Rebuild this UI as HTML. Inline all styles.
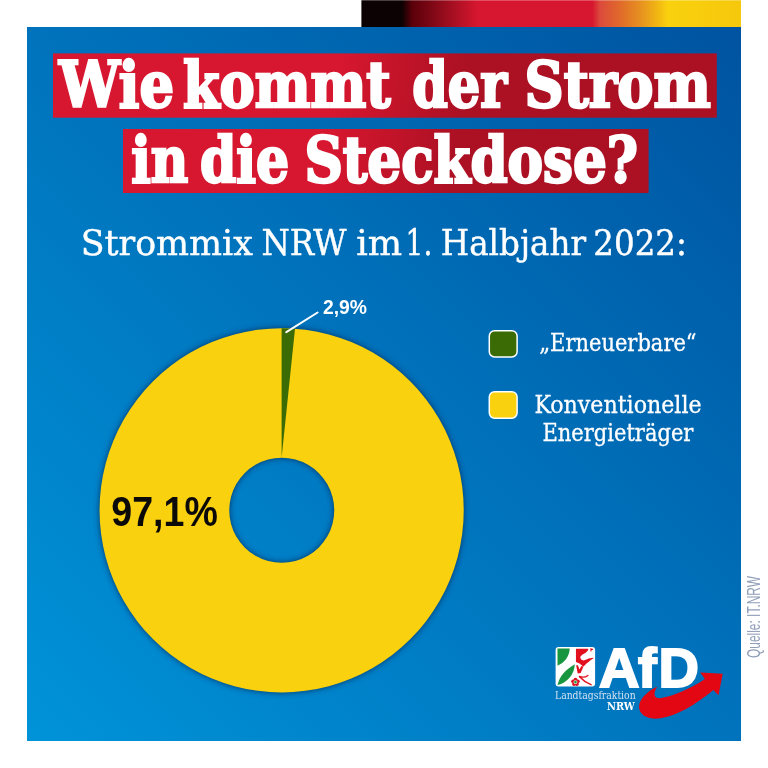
<!DOCTYPE html>
<html lang="de">
<head>
<meta charset="utf-8">
<title>Wie kommt der Strom in die Steckdose?</title>
<style>
html,body{margin:0;padding:0;background:#fff;}
body{width:768px;height:768px;overflow:hidden;position:relative;}
svg{display:block;position:absolute;left:0;top:0;}
.slabB{font-family:"DejaVu Serif","Liberation Serif",serif;font-weight:bold;font-stretch:condensed;}
.slab{font-family:"DejaVu Serif","Liberation Serif",serif;font-weight:normal;font-stretch:condensed;}
.sans{font-family:"Liberation Sans","DejaVu Sans",sans-serif;}
.sansB{font-family:"Liberation Sans","DejaVu Sans",sans-serif;font-weight:bold;}
</style>
</head>
<body>
<svg width="768" height="768" viewBox="0 0 768 768">
  <defs>
    <linearGradient id="bg" x1="741" y1="27" x2="27" y2="741" gradientUnits="userSpaceOnUse">
      <stop offset="0" stop-color="#0053a0"/>
      <stop offset="1" stop-color="#0093d8"/>
    </linearGradient>
    <linearGradient id="flag" x1="362" y1="0" x2="741" y2="0" gradientUnits="userSpaceOnUse">
      <stop offset="0" stop-color="#0c0203"/>
      <stop offset="0.1055" stop-color="#0c0203"/>
      <stop offset="0.132" stop-color="#5a0009"/>
      <stop offset="0.206" stop-color="#8e0b1b"/>
      <stop offset="0.306" stop-color="#d7172f"/>
      <stop offset="0.608" stop-color="#d7172f"/>
      <stop offset="0.628" stop-color="#dc4a3c"/>
      <stop offset="0.681" stop-color="#e06a2a"/>
      <stop offset="0.734" stop-color="#e69020"/>
      <stop offset="0.781" stop-color="#f2b812"/>
      <stop offset="0.807" stop-color="#f9d10e"/>
      <stop offset="1" stop-color="#f6c80c"/>
    </linearGradient>
    <linearGradient id="red" x1="335" y1="85" x2="465" y2="101" gradientUnits="userSpaceOnUse">
      <stop offset="0" stop-color="#d7172f"/>
      <stop offset="1" stop-color="#ab1023"/>
    </linearGradient>
    <filter id="sh" x="-10%" y="-10%" width="120%" height="120%">
      <feGaussianBlur stdDeviation="3"/>
    </filter>
  </defs>
  <!-- blue panel -->
  <rect x="27" y="27" width="714" height="714" fill="url(#bg)"/>
  <!-- flag bar -->
  <rect x="361.4" y="0.25" width="379.6" height="26.75" fill="url(#flag)"/>
  <!-- title boxes -->
  <rect x="53" y="53.4" width="663.8" height="64.3" fill="url(#red)"/>
  <rect x="123" y="129" width="525.6" height="64" fill="url(#red)"/>
  <g>
    <text class="slabB" x="58.99" y="107.4" font-size="63" fill="#fff" stroke="#fff" stroke-width="2.4" textLength="115.01" lengthAdjust="spacingAndGlyphs">Wie</text>
    <text class="slabB" x="183.0" y="107.4" font-size="63" fill="#fff" stroke="#fff" stroke-width="2.4" textLength="207.6" lengthAdjust="spacingAndGlyphs">kommt</text>
    <text class="slabB" x="412.2" y="107.4" font-size="63" fill="#fff" stroke="#fff" stroke-width="2.4" textLength="94.81" lengthAdjust="spacingAndGlyphs">der</text>
    <text class="slabB" x="524.58" y="107.4" font-size="63" fill="#fff" stroke="#fff" stroke-width="2.4" textLength="186.22" lengthAdjust="spacingAndGlyphs">Strom</text>
    <text class="slabB" x="131.16" y="182.2" font-size="63" fill="#fff" stroke="#fff" stroke-width="2.4" textLength="57.04" lengthAdjust="spacingAndGlyphs">in</text>
    <text class="slabB" x="199.97" y="182.2" font-size="63" fill="#fff" stroke="#fff" stroke-width="2.4" textLength="89.27" lengthAdjust="spacingAndGlyphs">die</text>
    <text class="slabB" x="304.38" y="182.2" font-size="63" fill="#fff" stroke="#fff" stroke-width="2.4" textLength="333.63" lengthAdjust="spacingAndGlyphs">Steckdose?</text>
  </g>
  <!-- subtitle -->
  <g>
    <text class="slab" x="80.75" y="254.5" font-size="36" fill="#fff" stroke="#fff" stroke-width="0.4" textLength="172.04" lengthAdjust="spacingAndGlyphs">Strommix</text>
    <text class="slab" x="261.39" y="254.5" font-size="36" fill="#fff" stroke="#fff" stroke-width="0.4" textLength="85.21" lengthAdjust="spacingAndGlyphs">NRW</text>
    <text class="slab" x="356.15" y="254.5" font-size="36" fill="#fff" stroke="#fff" stroke-width="0.4" textLength="45.9" lengthAdjust="spacingAndGlyphs">im</text>
    <text class="slab" x="405.58" y="254.5" font-size="36" fill="#fff" stroke="#fff" stroke-width="0.4" textLength="26.74" lengthAdjust="spacingAndGlyphs">1.</text>
    <text class="slab" x="440.79" y="254.5" font-size="36" fill="#fff" stroke="#fff" stroke-width="0.4" textLength="145.2" lengthAdjust="spacingAndGlyphs">Halbjahr</text>
    <text class="slab" x="593.32" y="254.5" font-size="36" fill="#fff" stroke="#fff" stroke-width="0.4" textLength="93.67" lengthAdjust="spacingAndGlyphs">2022:</text>
  </g>
  <!-- donut -->
  <g filter="url(#sh)" opacity="1">
    <path d="M281.7 328.2 A182.1 182.1 0 1 1 281.6 328.2 Z M281.7 457.8 A52.5 52.5 0 1 0 281.8 457.8 Z" fill="#003366" fill-rule="evenodd"/>
  </g>
  <path d="M281.7 328.2 A182.1 182.1 0 1 1 281.6 328.2 Z M281.7 457.8 A52.5 52.5 0 1 0 281.8 457.8 Z" fill="#f9d10e" fill-rule="evenodd"/>
  <path d="M281.6 457.8 L281.6 328.2 A182.1 182.1 0 0 1 295 328.7 Z" fill="#3a6b05"/>
  <line x1="286.3" y1="332.2" x2="317.6" y2="312.5" stroke="#fff" stroke-width="2" stroke-linecap="round"/>
  <text class="sansB" x="323.0" y="313.5" font-size="19.5" fill="#fff" textLength="44.03" lengthAdjust="spacingAndGlyphs">2,9%</text>
  <text class="sansB" x="111.37" y="525.6" font-size="42" fill="#0c0a08" textLength="106.46" lengthAdjust="spacingAndGlyphs">97,1%</text>
  <!-- legend -->
  <rect x="489.3" y="330.65" width="27.8" height="26.3" rx="5.3" fill="#3a6b05" stroke="#fff" stroke-width="1.5"/>
  <rect x="489.3" y="391.7" width="27.8" height="26.45" rx="5.3" fill="#f9d10e" stroke="#fff" stroke-width="1.5"/>
  <g>
    <text class="slab" x="539.18" y="350.8" font-size="24" fill="#fff" stroke="#fff" stroke-width="0.3" textLength="157.43" lengthAdjust="spacingAndGlyphs">„Erneuerbare“</text>
    <text class="slab" x="534.4" y="412.9" font-size="24" fill="#fff" stroke="#fff" stroke-width="0.3" textLength="167.21" lengthAdjust="spacingAndGlyphs">Konventionelle</text>
    <text class="slab" x="542.39" y="440.7" font-size="24" fill="#fff" stroke="#fff" stroke-width="0.3" textLength="151.01" lengthAdjust="spacingAndGlyphs">Energieträger</text>
  </g>
  <!-- source -->
  <text transform="translate(760 658) rotate(-90)" font-family="Liberation Sans, DejaVu Sans, sans-serif" font-size="17.8" fill="#909eb8" textLength="82" lengthAdjust="spacingAndGlyphs">Quelle: IT.NRW</text>
  <!-- logo -->
  <g id="logo">
    <rect x="555.6" y="646.9" width="39.5" height="39.6" rx="3" fill="#fff"/>
    <path d="M557.5 648.6 L569.7 648.6 C569.5 656 565 662.5 557.5 665.75 Z" fill="#17963f"/>
    <path d="M557.5 685.1 C559.6 676 565 670 574.8 664.2 C574.3 674.5 567.5 682.5 557.5 685.1 Z" fill="#17963f"/>
    <path d="M575.95 648.73 L588.26 648.73 L588.06 650.3 L585.72 652.64 L582.59 654.59 L580.64 656.35 L580.25 657.72 L581.23 659.48 L583.38 660.45 L585.72 659.67 L588.84 658.5 L591.58 657.91 L593.34 657.72 L593.73 656.94 L593.14 658.5 L590.8 660.06 L588.84 661.63 L586.5 663.58 L584.55 665.53 L583.18 666.7 L581.81 665.14 L579.08 663.19 L575.95 662.02 Z" fill="#e2101c"/>
    <path d="M576.15 665.34 L577.91 665.14 L579.47 669.44 L581.42 665.92 L583.38 666.7 L580.64 672.95 L577.71 673.54 Z" fill="#e2101c"/>
    <path d="M590.21 648.15 L592.75 648.73 L593.14 649.71 L591.58 650.3 L591.19 651.86 L590.6 651.47 Z" fill="#e2101c"/>
    <path d="M579.3 676.3 C582 677.4 585.6 677.2 587.9 675.4" fill="none" stroke="#e2101c" stroke-width="1.3" stroke-linecap="round"/>
    <path d="M579.8 677 C582.5 680 586 682.6 591 684.6" fill="none" stroke="#e2101c" stroke-width="1.5" stroke-linecap="round"/>
    <g fill="#d9121f">
      <circle cx="575.47" cy="679.6" r="1.9"/>
      <circle cx="577.8" cy="681.3" r="1.9"/>
      <circle cx="576.9" cy="684.1" r="1.9"/>
      <circle cx="574.0" cy="684.1" r="1.9"/>
      <circle cx="573.1" cy="681.3" r="1.9"/>
    </g>
    <circle cx="575.47" cy="682.1" r="1.9" fill="#fff"/>
    <circle cx="575.47" cy="682.1" r="1.3" fill="#20963a"/>
    <text class="sansB" y="686.7" font-size="56" fill="#fff" stroke="#fff" stroke-width="2"><tspan x="599">A</tspan><tspan x="638">f</tspan><tspan x="658.5">D</tspan></text>
    <text class="slab" x="554.99" y="698.8" font-size="11" fill="#d4e2f2" textLength="80.62" lengthAdjust="spacingAndGlyphs">Landtagsfraktion</text>
    <text class="slabB" x="606.97" y="710" font-size="10.2" fill="#fff" textLength="27.85" lengthAdjust="spacingAndGlyphs">NRW</text>
    <path d="M657.3 686.7 C650 689.5 641.5 696.5 639.3 704 C637.8 711.5 642.5 717.3 653 718.6 C668 719.6 690 709.5 713.3 690 L718.5 695.2 L722.7 673.7 L700.3 672.4 L704.9 678.9 C690 689.2 672 696.2 660 698.2 C655.5 698.6 654 695.5 654.7 692.5 C655.2 690.2 656.2 688.2 657.3 686.7 Z" fill="#e30613"/>
  </g>
</svg>
</body>
</html>
